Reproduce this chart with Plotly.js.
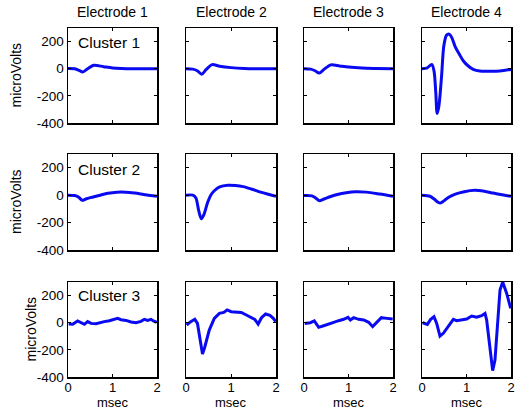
<!DOCTYPE html>
<html>
<head>
<meta charset="utf-8">
<script src="https://cdn.plot.ly/plotly-3.0.1.min.js"></script>
<style>
html,body{margin:0;padding:0;background:#fff;}
#chart{width:516px;height:411px;}
</style>
</head>
<body>
<div id="chart"></div>
<script>
// ---- data (time in msec, amplitude in microVolts) ----
var electrodes = ["Electrode 1", "Electrode 2", "Electrode 3", "Electrode 4"];
var clusters = ["Cluster 1", "Cluster 2", "Cluster 3"];
var xTicks = [0, 1, 2];
var yTicks = [-400, -200, 0, 200];

var c1e1_t = [0, 0.15, 0.25, 0.33, 0.45, 0.58, 0.8, 1.0, 1.2, 1.5, 2.0];
var c1e1_v = [2, 0, -12, -25, 2, 25, 15, 6, 2, 0, -1];
var c1e2_t = [0, 0.15, 0.25, 0.35, 0.45, 0.58, 0.75, 1.0, 1.3, 1.6, 2.0];
var c1e2_v = [0, -3, -15, -40, -5, 30, 18, 8, 2, 0, 0];
var c1e3_t = [0, 0.15, 0.25, 0.34, 0.45, 0.6, 0.8, 1.0, 1.3, 1.6, 2.0];
var c1e3_v = [0, -3, -15, -32, -5, 28, 20, 12, 5, 2, 0];
var c1e4_t = [0, 0.12, 0.22, 0.27, 0.31, 0.34, 0.38, 0.44, 0.49, 0.55, 0.61, 0.67, 0.74, 0.84, 0.93, 1.04, 1.15, 1.3, 1.53, 1.75, 2.0];
var c1e4_v = [0, 7, 32, -17, -176, -330, -275, -54, 167, 246, 255, 229, 167, 106, 57, 20, -5, -17, -18, -16, -5];

var c2e1_t = [0, 0.15, 0.24, 0.32, 0.4, 0.5, 0.7, 0.9, 1.1, 1.3, 1.5, 1.7, 1.85, 2.0];
var c2e1_v = [0, -3, -15, -38, -28, -18, -2, 14, 22, 22, 15, 5, -2, -8];
var c2e2_t = [0, 0.15, 0.22, 0.28, 0.34, 0.4, 0.48, 0.56, 0.63, 0.75, 0.93, 1.1, 1.27, 1.45, 1.68, 1.85, 2.0];
var c2e2_v = [0, 0, -20, -110, -172, -140, -54, 5, 32, 60, 72, 70, 62, 45, 20, 5, -9];
var c2e3_t = [0, 0.18, 0.26, 0.34, 0.45, 0.6, 0.75, 0.95, 1.16, 1.4, 1.7, 2.0];
var c2e3_v = [-3, -5, -20, -40, -28, -10, 5, 18, 25, 22, 8, -8];
var c2e4_t = [0, 0.18, 0.28, 0.36, 0.41, 0.5, 0.6, 0.75, 0.95, 1.18, 1.4, 1.6, 1.8, 2.0];
var c2e4_v = [0, -8, -30, -52, -58, -40, -15, 8, 25, 35, 28, 15, 3, -9];

var c3e1_t = [0.015, 0.105, 0.217, 0.292, 0.367, 0.442, 0.517, 0.629, 0.704, 0.816, 0.929, 1.041, 1.116, 1.191, 1.303, 1.416, 1.528, 1.64, 1.715, 1.79, 1.865, 1.918, 1.993];
var c3e1_v = [-10, -12, 13, 0, -12, 8, -5, -7, 0, 8, 15, 25, 32, 22, 17, 5, 0, 10, 25, 17, 25, 13, 3];
var c3e2_t = [0.015, 0.105, 0.195, 0.255, 0.315, 0.367, 0.419, 0.517, 0.629, 0.742, 0.839, 0.914, 1.004, 1.116, 1.228, 1.341, 1.453, 1.528, 1.603, 1.678, 1.768, 1.865, 1.94, 1.993];
var c3e2_v = [-17, 8, 25, -5, -127, -231, -177, -54, 32, 69, 76, 94, 81, 81, 76, 57, 40, 25, -10, 37, 64, 54, 32, 8];
var c3e3_t = [0.015, 0.142, 0.232, 0.33, 0.442, 0.554, 0.667, 0.779, 0.891, 0.989, 1.041, 1.116, 1.228, 1.341, 1.453, 1.543, 1.64, 1.738, 1.865, 1.993];
var c3e3_v = [-5, 0, 13, -34, -22, -12, 3, 15, 25, 40, 20, 37, 25, 20, 3, -29, 8, 37, 32, 27];
var c3e4_t = [0.015, 0.12, 0.195, 0.27, 0.33, 0.404, 0.479, 0.592, 0.704, 0.779, 0.891, 1.004, 1.116, 1.228, 1.341, 1.416, 1.453, 1.506, 1.551, 1.588, 1.64, 1.693, 1.753, 1.813, 1.903, 1.993];
var c3e4_v = [0, -12, 25, 44, -5, -98, -78, -24, 25, 15, 20, 27, 49, 40, 52, 69, 20, -127, -275, -353, -275, -5, 241, 300, 216, 106];

var panels = [
  [c1e1_t, c1e1_v], [c1e2_t, c1e2_v], [c1e3_t, c1e3_v], [c1e4_t, c1e4_v],
  [c2e1_t, c2e1_v], [c2e2_t, c2e2_v], [c2e3_t, c2e3_v], [c2e4_t, c2e4_v],
  [c3e1_t, c3e1_v], [c3e2_t, c3e2_v], [c3e3_t, c3e3_v], [c3e4_t, c3e4_v]
];

// ---- layout geometry (pixels) ----
var W = 516, H = 411;
var colPx = [[68, 157], [186, 276], [304, 393], [422, 511]];
var rowPx = [[28, 123], [154, 250], [282, 377]];
var FONT = "Liberation Sans, Arial, Helvetica, sans-serif";

var traces = [];
var layout = {
  width: W, height: H,
  margin: {l: 0, r: 0, t: 0, b: 0},
  paper_bgcolor: "#ffffff",
  plot_bgcolor: "#ffffff",
  showlegend: false,
  font: {family: FONT, size: 13, color: "#000"},
  annotations: []
};

panels.forEach(function (p, i) {
  var r = Math.floor(i / 4), c = i % 4;
  var n = i + 1;
  var xa = "x" + (n === 1 ? "" : n), ya = "y" + (n === 1 ? "" : n);
  traces.push({
    x: p[0], y: p[1], type: "scatter", mode: "lines",
    xaxis: xa, yaxis: ya,
    line: {color: "#0a0af0", width: 3, shape: r < 2 ? "spline" : "linear", smoothing: 0.8},
    hoverinfo: "skip"
  });
  var common = {
    showline: true, mirror: "ticks", linecolor: "#000", linewidth: 1.5,
    ticks: "inside", ticklen: 3, tickwidth: 1, tickcolor: "#000",
    showgrid: false, zeroline: false, fixedrange: true,
    tickfont: {family: FONT, size: 13.5, color: "#000"}
  };
  layout["xaxis" + (n === 1 ? "" : n)] = Object.assign({}, common, {
    domain: [colPx[c][0] / W, colPx[c][1] / W],
    anchor: ya, range: [0, 2], tickvals: xTicks, ticktext: xTicks.map(String),
    showticklabels: r === 2, ticklabelstandoff: -2,
    tickfont: {family: FONT, size: 13, color: "#000"}
  });
  layout["yaxis" + (n === 1 ? "" : n)] = Object.assign({}, common, {
    domain: [1 - rowPx[r][1] / H, 1 - rowPx[r][0] / H],
    anchor: xa, range: [-400, 300], tickvals: yTicks, ticktext: yTicks.map(String),
    showticklabels: c === 0
  });
});

function ann(text, px, py, opts) {
  return Object.assign({
    text: text, xref: "paper", yref: "paper",
    x: px / W, y: 1 - py / H, showarrow: false,
    xanchor: "center", yanchor: "middle",
    font: {family: FONT, size: 14, color: "#000"}
  }, opts || {});
}

electrodes.forEach(function (e, c) {
  layout.annotations.push(ann(e, (colPx[c][0] + colPx[c][1]) / 2, 12));
  layout.annotations.push(ann("msec", (colPx[c][0] + colPx[c][1]) / 2, 411, {yanchor: "bottom", borderpad: 0, font: {family: FONT, size: 13, color: "#000"}}));
});
var mvX = [16, 16, 30];
clusters.forEach(function (cl, r) {
  layout.annotations.push(ann(cl, 76, rowPx[r][0] + (r === 2 ? 13 : 15), {xanchor: "left", font: {family: FONT, size: 15.5, color: "#000"}}));
  layout.annotations.push(ann("microVolts", mvX[r], (rowPx[r][0] + rowPx[r][1]) / 2, {textangle: -90}));
});

Plotly.newPlot("chart", traces, layout, {staticPlot: true, displayModeBar: false});
</script>
</body>
</html>
